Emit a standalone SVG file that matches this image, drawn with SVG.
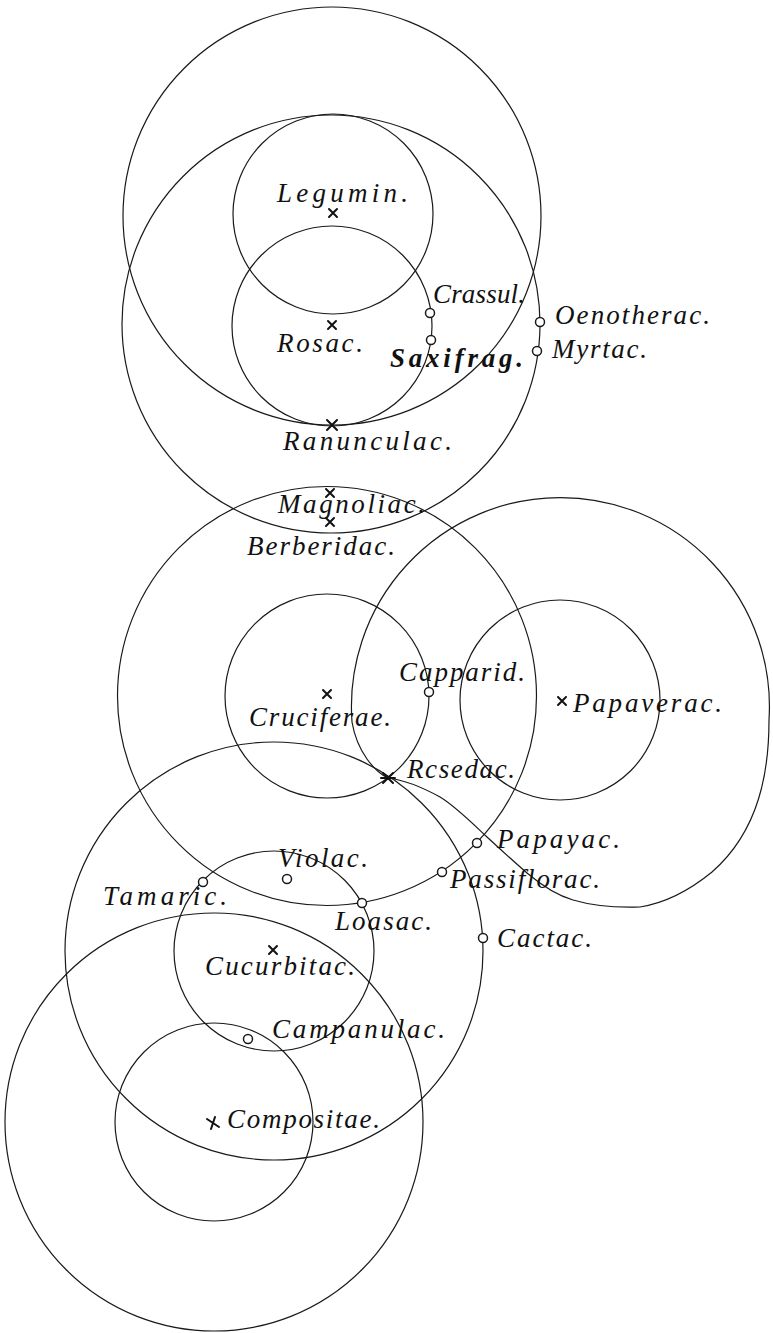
<svg xmlns="http://www.w3.org/2000/svg" width="773" height="1333" viewBox="0 0 773 1333">
<style>
.c{fill:none;stroke:#1a1a1a;stroke-width:1.2}
.n{fill:#fff;stroke:#1a1a1a;stroke-width:1.5}
.x{fill:none;stroke:#111;stroke-width:2;stroke-linecap:round}
text{font-family:"Liberation Serif","DejaVu Serif",serif;font-style:italic;font-size:27px;fill:#111}
</style>
<rect width="773" height="1333" fill="#fff"/>
<g id="circles">
<circle class="c" cx="332" cy="216" r="209"/>
<circle class="c" cx="331" cy="324" r="209"/>
<circle class="c" cx="333" cy="214" r="100"/>
<circle class="c" cx="332" cy="326" r="100"/>
<circle class="c" cx="327" cy="696" r="209.5"/>
<circle class="c" cx="327" cy="696" r="102"/>
<path class="c" d="M388,778 C375,772 357,752 352,722 A209,209 0 1 1 769,720 C769,770 760,830 712,872 C690,890 665,903 640,907 C610,908 590,905 573,900 C556,895 540,884 527,873 C512,860 500,849 487,837 C470,821 455,806 440,797 C420,786 405,780 388,778 Z"/>
<circle class="c" cx="560" cy="700" r="100"/>
<circle class="c" cx="274" cy="951" r="209"/>
<circle class="c" cx="274" cy="951" r="100"/>
<circle class="c" cx="214" cy="1122" r="209"/>
<circle class="c" cx="214" cy="1122" r="99"/>
</g>
<g id="legumin"><path class="x" d="M329,209 L337,217 M337,209 L329,217"/><text x="277" y="202" textLength="131" lengthAdjust="spacing">Legumin.</text></g>
<g id="rosac"><path class="x" d="M328,321 L336,329 M336,321 L328,329"/><text x="277" y="352" textLength="86" lengthAdjust="spacing">Rosac.</text></g>
<g id="crassul"><circle class="n" cx="430" cy="313" r="4.5"/><text x="433" y="303" textLength="92" lengthAdjust="spacing">Crassul.</text></g>
<g id="saxifrag"><circle class="n" cx="431" cy="340" r="4.5"/><text x="390" y="367" textLength="133" lengthAdjust="spacing" font-weight="bold">Saxifrag.</text></g>
<g id="oenotherac"><circle class="n" cx="540" cy="322" r="4.5"/><text x="555" y="324" textLength="155" lengthAdjust="spacing">Oenotherac.</text></g>
<g id="myrtac"><circle class="n" cx="537" cy="351" r="4.5"/><text x="552" y="358" textLength="95" lengthAdjust="spacing">Myrtac.</text></g>
<g id="ranunculac"><path class="x" d="M327,420 L337,430 M337,420 L327,430"/><text x="283" y="450" textLength="169" lengthAdjust="spacing">Ranunculac.</text></g>
<g id="magnoliac"><path class="x" d="M326,489 L334,497 M334,489 L326,497"/><text x="278" y="513" textLength="147" lengthAdjust="spacing">Magnoliac.</text></g>
<g id="berberidac"><path class="x" d="M326,518 L334,526 M334,518 L326,526"/><text x="247" y="555" textLength="148" lengthAdjust="spacing">Berberidac.</text></g>
<g id="capparid"><circle class="n" cx="429" cy="692" r="4.5"/><text x="399" y="681" textLength="126" lengthAdjust="spacing">Capparid.</text></g>
<g id="cruciferae"><path class="x" d="M323,690 L331,698 M331,690 L323,698"/><text x="249" y="726" textLength="142" lengthAdjust="spacing">Cruciferae.</text></g>
<g id="papaverac"><path class="x" d="M558,697 L566,705 M566,697 L558,705"/><text x="573" y="712" textLength="149" lengthAdjust="spacing">Papaverac.</text></g>
<g id="resedac"><path class="x" d="M383,773 L393,783 M393,773 L383,783 M381,778 L395,778" stroke-width="1.6"/><text x="407" y="778" textLength="108" lengthAdjust="spacing">Rcsedac.</text></g>
<g id="papayac"><circle class="n" cx="477" cy="843" r="4.5"/><text x="497" y="848" textLength="123" lengthAdjust="spacing">Papayac.</text></g>
<g id="passiflorac"><circle class="n" cx="442" cy="872" r="4.5"/><text x="450" y="888" textLength="150" lengthAdjust="spacing">Passiflorac.</text></g>
<g id="violac"><circle class="n" cx="287" cy="879" r="4.5"/><text x="278" y="867" textLength="90" lengthAdjust="spacing">Violac.</text></g>
<g id="tamaric"><circle class="n" cx="203" cy="882" r="4.5"/><text x="103" y="905" textLength="124" lengthAdjust="spacing">Tamaric.</text></g>
<g id="loasac"><circle class="n" cx="362" cy="903" r="4.5"/><text x="335" y="930" textLength="97" lengthAdjust="spacing">Loasac.</text></g>
<g id="cactac"><circle class="n" cx="483" cy="938" r="4.5"/><text x="497" y="947" textLength="95" lengthAdjust="spacing">Cactac.</text></g>
<g id="cucurbitac"><path class="x" d="M269,946 L277,954 M277,946 L269,954"/><text x="205" y="975" textLength="150" lengthAdjust="spacing">Cucurbitac.</text></g>
<g id="campanulac"><circle class="n" cx="248" cy="1039" r="4.5"/><text x="272" y="1038" textLength="173" lengthAdjust="spacing">Campanulac.</text></g>
<g id="compositae"><path class="x" d="M207,1119 L219,1127 M215,1117 L211,1129"/><text x="227" y="1128" textLength="153" lengthAdjust="spacing">Compositae.</text></g>
</svg>
